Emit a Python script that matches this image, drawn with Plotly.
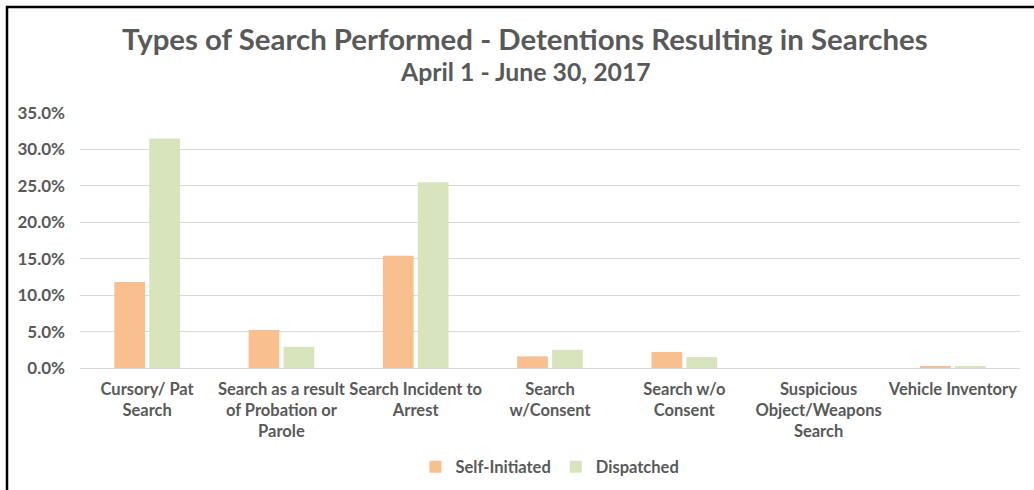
import plotly.graph_objects as go

categories = [
    "Cursory/ Pat<br>Search",
    "Search as a result<br>of Probation or<br>Parole",
    "Search Incident to<br>Arrest",
    "Search<br>w/Consent",
    "Search w/o<br>Consent",
    "Suspicious<br>Object/Weapons<br>Search",
    "Vehicle Inventory",
]
self_initiated = [11.8, 5.2, 15.4, 1.6, 2.2, 0.0, 0.2]
dispatched = [31.5, 2.9, 25.5, 2.5, 1.5, 0.0, 0.15]
y_ticks = [0, 5, 10, 15, 20, 25, 30, 35]
y_tick_labels = ["0.0%", "5.0%", "10.0%", "15.0%", "20.0%", "25.0%", "30.0%", "35.0%"]

W, H = 1034, 490
L, R, T, B = 80, 14, 113, 122
pw, ph = W - L - R, H - T - B

def px(x):
    return (x - L) / pw

def py(y):
    return (H - B - y) / ph

text_color = "#595959"
font_family = "Lato"
fs = 16.5

fig = go.Figure()
fig.add_trace(go.Bar(name="Self-Initiated", x=categories, y=self_initiated,
                     marker=dict(color="#F9BF8F", line=dict(width=0))))
fig.add_trace(go.Bar(name="Dispatched", x=categories, y=dispatched,
                     marker=dict(color="#D8E4BC", line=dict(width=0))))

fig.update_layout(
    width=W, height=H,
    margin=dict(l=L, r=R, t=T, b=B, autoexpand=False),
    paper_bgcolor="white", plot_bgcolor="white",
    barmode="group", bargap=0.48, bargroupgap=0.12,
    font=dict(family=font_family, color=text_color, size=fs),
    showlegend=True,
    legend=dict(orientation="h", x=0.5, xanchor="center", y=py(467), yanchor="middle",
                font=dict(size=fs, color=text_color, family=font_family, weight="bold"),
                traceorder="normal"),
    xaxis=dict(showgrid=False, showline=False, ticks="", tickangle=0, ticklabelstandoff=9,
               tickfont=dict(size=fs, color=text_color, weight="bold")),
    yaxis=dict(range=[0, 35], tickvals=y_ticks, ticktext=y_tick_labels,
               showgrid=True, gridcolor="#D9D9D9", gridwidth=1,
               zeroline=True, zerolinecolor="#D9D9D9", zerolinewidth=1,
               showline=False, ticks="", ticklabelstandoff=14,
               tickfont=dict(size=17, color=text_color, weight="bold")),
    annotations=[
        dict(text="<b>Types of Search Performed - Detentions Resulting in Searches</b>",
             xref="paper", yref="paper", x=px(525), y=py(39), xanchor="center", yanchor="middle",
             showarrow=False, font=dict(size=29.4, color=text_color, family=font_family)),
        dict(text="<b>April 1 - June 30, 2017</b>",
             xref="paper", yref="paper", x=px(525), y=py(72), xanchor="center", yanchor="middle",
             showarrow=False, font=dict(size=24.8, color=text_color, family=font_family)),
    ],
    shapes=[
        dict(type="line", xref="paper", yref="paper", x0=px(7), x1=px(7), y0=py(6), y1=py(H + 5),
             line=dict(color="black", width=2.5)),
        dict(type="line", xref="paper", yref="paper", x0=px(6), x1=px(W + 5), y0=py(7), y1=py(7),
             line=dict(color="black", width=2.5)),
    ],
)

fig.write_html("out.html", config={"displayModeBar": False},
               post_script="document.body.style.margin='0';document.body.style.overflow='hidden';")
